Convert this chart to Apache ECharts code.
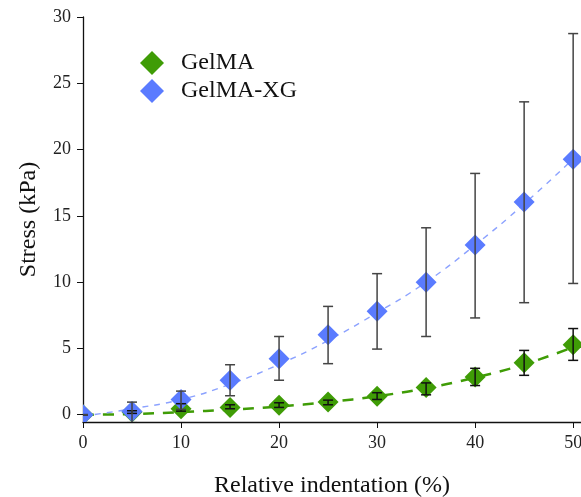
<!DOCTYPE html>
<html>
<head>
<meta charset="utf-8">
<script src="https://cdn.jsdelivr.net/npm/echarts@6/dist/echarts.min.js"></script>
<style>html,body{margin:0;padding:0;background:#fff}#c{width:581px;height:497px}</style>
</head>
<body>
<div id="c"></div>
<script>
const indentation = [0, 5, 10, 15, 20, 25, 30, 35, 40, 45, 50];
const gelmaMean = [0, 0.2, 0.45, 0.55, 0.72, 0.95, 1.4, 2.05, 2.85, 3.92, 5.28];
const gelmaLow  = [0, 0.1, 0.27, 0.45, 0.55, 0.75, 1.15, 1.5, 2.2, 2.97, 4.1];
const gelmaHigh = [0, 0.3, 0.83, 0.75, 0.9, 1.1, 1.66, 2.4, 3.5, 4.85, 6.5];
const xgMean = [0, 0.25, 1.15, 2.6, 4.22, 6.04, 7.8, 10.0, 12.8, 16.05, 19.27];
const xgLow  = [0, -0.6, 0.4, 1.43, 2.6, 3.85, 4.95, 5.9, 7.3, 8.45, 9.9];
const xgHigh = [0, 0.95, 1.78, 3.77, 5.9, 8.17, 10.64, 14.1, 18.2, 23.6, 28.75];
const gelmaFit = [0, 0.05, 0.2, 0.38, 0.62, 0.95, 1.4, 2.0, 2.8, 3.8, 5.1];
const xgFit = [-0.1, 0.45, 1.15, 2.3, 3.8, 5.6, 7.7, 10.0, 12.8, 15.9, 19.3];
const xTicks = [0, 10, 20, 30, 40, 50];
const yTicks = [0, 5, 10, 15, 20, 25, 30];

const FONT = 'Liberation Serif';
const pairs = (ys) => indentation.map((x, i) => [x, ys[i]]);
const bars = (lo, hi) => indentation.map((x, i) => [x, lo[i], hi[i]]);

function errRender(color) {
  return function (params, api) {
    const x = api.value(0), lo = api.value(1), hi = api.value(2);
    const a = api.coord([x, hi]), b = api.coord([x, lo]);
    const h = 5;
    const st = { stroke: color, lineWidth: 1.5 };
    return {
      type: 'group',
      children: [
        { type: 'line', shape: { x1: a[0], y1: a[1], x2: b[0], y2: b[1] }, style: st },
        { type: 'line', shape: { x1: a[0] - h, y1: a[1], x2: a[0] + h, y2: a[1] }, style: st },
        { type: 'line', shape: { x1: b[0] - h, y1: b[1], x2: b[0] + h, y2: b[1] }, style: st }
      ]
    };
  };
}

function diamondRender(color) {
  return function (params, api) {
    const c = api.coord([api.value(0), api.value(1)]);
    const r = 10.5;
    return {
      type: 'polygon',
      shape: { points: [[c[0], c[1] - r], [c[0] + r, c[1]], [c[0], c[1] + r], [c[0] - r, c[1]]] },
      style: { fill: color }
    };
  };
}

const green = '#3f9c06';
const blue = '#5a7bff';

const chart = echarts.init(document.getElementById('c'), null, { renderer: 'canvas' });
chart.setOption({
  animation: false,
  backgroundColor: '#fff',
  textStyle: { fontFamily: FONT },
  grid: { left: 83, right: 0, top: 17, bottom: 75, containLabel: false, outerBoundsMode: 'none' },
  legend: {
    data: [{ name: 'GelMA', icon: 'diamond', itemStyle: { color: green } },
           { name: 'GelMA-XG', icon: 'diamond', itemStyle: { color: blue } }],
    orient: 'vertical', left: 135, top: 46,
    itemWidth: 24, itemHeight: 24, itemGap: 4,
    textStyle: { fontFamily: FONT, fontSize: 24, color: '#111', padding: [0, 0, 0, 12] }
  },
  xAxis: {
    type: 'value', min: 0, max: 50.8,
    name: 'Relative indentation (%)', nameLocation: 'middle', nameGap: 52,
    nameTextStyle: { fontFamily: FONT, fontSize: 24, color: '#111' },
    axisLine: { onZero: false, lineStyle: { color: '#111', width: 1.3 } },
    axisTick: { show: true, length: 6, customValues: xTicks, lineStyle: { color: '#111' } },
    axisLabel: { customValues: xTicks, fontFamily: FONT, fontSize: 18, color: '#222', margin: 12 },
    splitLine: { show: false }
  },
  yAxis: {
    type: 'value', min: -0.55, max: 30,
    name: 'Stress (kPa)', nameLocation: 'middle', nameGap: 42,
    nameTextStyle: { fontFamily: FONT, fontSize: 24, color: '#111' },
    axisLine: { show: true, lineStyle: { color: '#111', width: 1.3 } },
    axisTick: { show: true, length: 6, customValues: yTicks, lineStyle: { color: '#111' } },
    axisLabel: { customValues: yTicks, fontFamily: FONT, fontSize: 18, color: '#222', margin: 12 },
    splitLine: { show: false }
  },
  series: [
    {
      name: 'GelMA fit', type: 'line', data: pairs(gelmaFit), smooth: true, showSymbol: false,
      lineStyle: { color: green, width: 2.5, type: [11, 9] }, silent: true, z: 1
    },
    {
      name: 'GelMA-XG fit', type: 'line', data: pairs(xgFit), smooth: true, showSymbol: false,
      lineStyle: { color: '#8ca2ff', width: 1.4, type: [6, 6] }, silent: true, z: 1
    },
    {
      name: 'GelMA', type: 'custom', data: pairs(gelmaMean), renderItem: diamondRender(green),
      itemStyle: { color: green }, clip: true, z: 2
    },
    {
      name: 'GelMA-XG', type: 'custom', data: pairs(xgMean), renderItem: diamondRender(blue),
      itemStyle: { color: blue }, clip: true, z: 3
    },
    {
      name: 'GelMA err', type: 'custom', data: bars(gelmaLow, gelmaHigh),
      renderItem: errRender('#111'), clip: true, z: 4, silent: true
    },
    {
      name: 'GelMA-XG err', type: 'custom', data: bars(xgLow, xgHigh),
      renderItem: errRender('#444'), clip: true, z: 4, silent: true
    }
  ]
});
</script>
</body>
</html>
